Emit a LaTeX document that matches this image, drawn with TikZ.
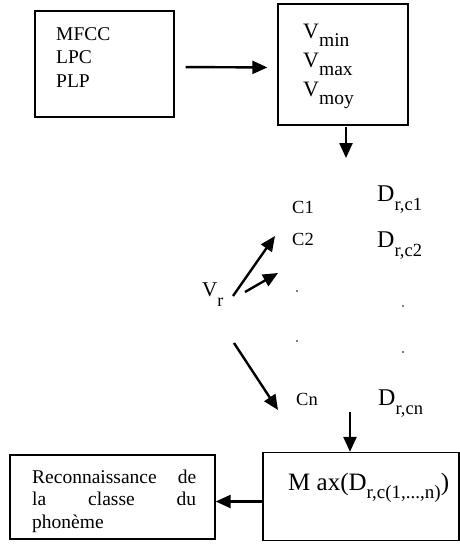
\documentclass[tikz,border=0pt]{standalone}
\usepackage{fontspec}
\setmainfont{Liberation Serif}
\usetikzlibrary{arrows.meta}
\newcommand\fs[1]{\fontsize{#1}{#1}\selectfont}
\newcommand\lowsub[3]{\raisebox{-#1pt}{\fs{#2}#3}}
\tikzset{
  box/.style={draw, line width=1.3pt, inner sep=0pt},
  arr/.style={line width=2.4pt, -{Triangle[length=15pt,width=13pt]}},
  lbl/.style={inner sep=0pt, anchor=base west},
  dotmark/.style={fill, circle, inner sep=0pt, minimum size=1.8pt},
}
\begin{document}
\begin{tikzpicture}[x=1pt,y=-1pt]
\useasboundingbox (0,0) rectangle (460,544);
% boxes
\node[box, minimum width=139pt, minimum height=106pt] (b1) at (104.5,64) {};
\node[box, minimum width=130pt, minimum height=121pt] (b2) at (343,64.5) {};
\node[box, minimum width=196pt, minimum height=88pt] (mx) at (361,496.5) {};
\node[box, minimum width=205pt, minimum height=84pt] (rec) at (112.5,497) {};
% box 1 text
\node[lbl, font=\fs{19.5}] (t1) at (56,40) {MFCC};
\node[lbl, font=\fs{19.5}] (t2) at (56,63) {LPC};
\node[lbl, font=\fs{19.5}] (t3) at (56,87) {PLP};
% box 2 text
\node[lbl, font=\fs{22}] (vmin) at (303,38) {V\lowsub{8}{19.5}{min}};
\node[lbl, font=\fs{22}] (vmax) at (303,67) {V\lowsub{8}{19.5}{max}};
\node[lbl, font=\fs{22}] (vmoy) at (303,96) {V\lowsub{8}{19.5}{moy}};
% classes
\node[lbl, font=\fs{18.5}] (c1) at (292,213) {C1};
\node[lbl, font=\fs{18.5}] (c2) at (292,245) {C2};
\node[lbl, font=\fs{18.5}] (cn) at (296,405) {Cn};
\node[lbl, font=\fs{24}] (d1) at (377,201) {D\lowsub{9}{18.5}{r,c1}};
\node[lbl, font=\fs{24}] (d2) at (377,247) {D\lowsub{9}{18.5}{r,c2}};
\node[lbl, font=\fs{24}] (dn) at (378,405) {D\lowsub{9}{18.5}{r,cn}};
\node[dotmark] (p1) at (297,291) {};
\node[dotmark] (p2) at (297,341) {};
\node[dotmark] (p3) at (403,306) {};
\node[dotmark] (p4) at (403,352) {};
\node[lbl, font=\fs{21}] (vr) at (202,296) {V\lowsub{10}{18}{r}};
% max box text
\node[lbl, font=\fs{25}] (mxt) at (288,490) {M ax(D\lowsub{8}{19}{r,c(1,...,n)})};
% recognition text
\node[inner sep=0pt, anchor=base west, text width=164pt, align=justify, font=\fontsize{19.5}{22.5}\selectfont] (rect) at (32,483)
  {Reconnaissance de\linebreak la classe du\linebreak phonème};
% coordinates
\coordinate (a0s) at (346,127);
\coordinate (a0e) at (346,158);
\coordinate (a1s) at (233,296);
\coordinate (a1e) at (275,236);
\coordinate (a2s) at (245,292);
\coordinate (a2e) at (278,273);
\coordinate (a3s) at (234,343);
\coordinate (a3e) at (278,410);
\coordinate (a4s) at (350,412);
\coordinate (mxl) at ([yshift=-5pt]mx.west);
% connectors
\draw[arr, shorten <=11pt, shorten >=10pt] ([yshift=-3pt]b1.east) -- ([yshift=-3pt]b2.west);
\draw[arr] (a0s) -- (a0e);
\draw[arr] (a1s) -- (a1e);
\draw[arr] (a2s) -- (a2e);
\draw[arr] (a3s) -- (a3e);
\draw[arr] (a4s) -- (a4s |- mx.north);
\draw[arr] (mxl) -- (rec.east |- mxl);
\end{tikzpicture}
\end{document}
